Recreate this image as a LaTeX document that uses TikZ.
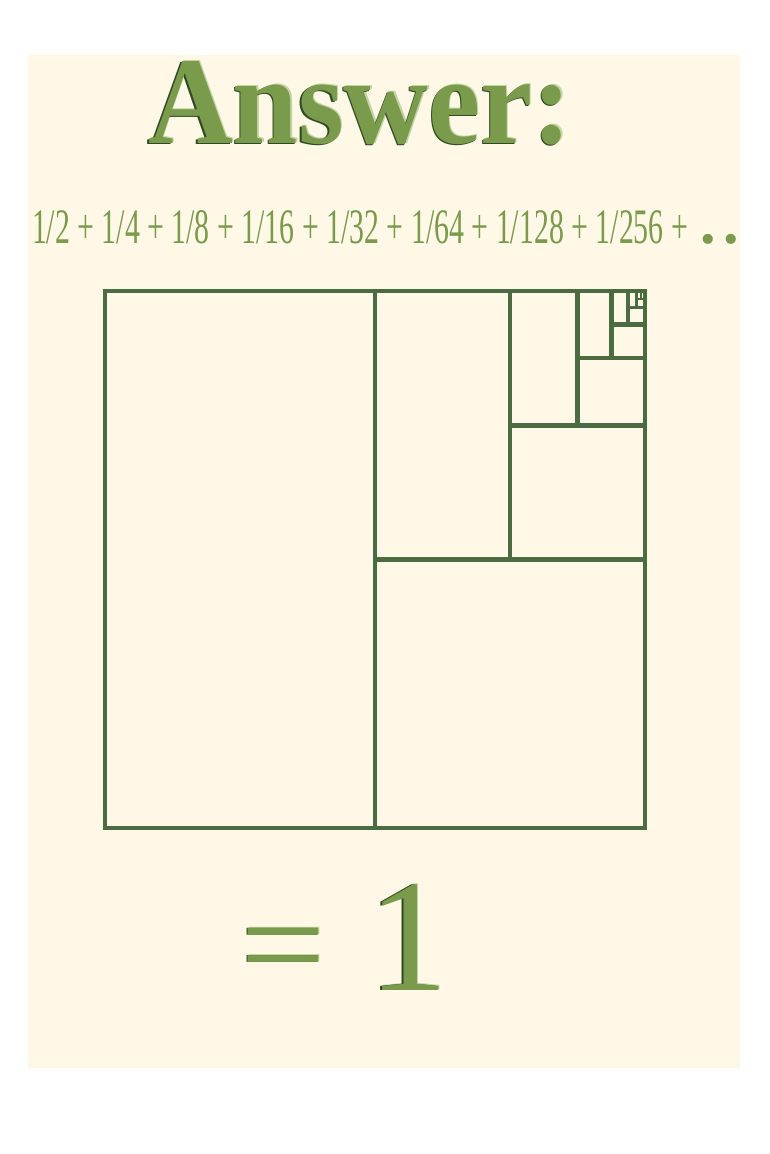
\documentclass[tikz,border=0pt]{standalone}
\usepackage{fontspec}
\setmainfont{Liberation Serif}
\usepackage{graphicx}
\definecolor{cream}{HTML}{FFF8E6}
\definecolor{boxgreen}{HTML}{4B6B40}
\definecolor{txtgreen}{HTML}{7A9A4C}
\definecolor{shadegreen}{HTML}{2E4A22}
\definecolor{lightgreen}{HTML}{C4D4A4}
\tikzset{
  txt/.style={inner sep=0pt, outer sep=0pt},
  grid/.style={draw=boxgreen, line width=4.6pt, line cap=rect},
  gridthin/.style={draw=boxgreen, line width=#1, line cap=rect},
  big/.style={txt, anchor=base, font=\fontsize{160}{160}\selectfont},
}
\newcommand{\titletext}{\resizebox{424pt}{82pt}{\bfseries Answer:}}
\newcommand{\seriestext}{\resizebox{656pt}{33pt}{1/2 + 1/4 + 1/8 + 1/16 + 1/32 + 1/64 + 1/128 + 1/256 +}\hspace{12pt}{\fontsize{62}{62}\selectfont\bfseries .\hspace{8pt}.}}
\begin{document}
\begin{tikzpicture}[x=1pt,y=-1pt]
\useasboundingbox (0,0) rectangle (770,1154);
\fill[white] (0,0) rectangle (770,1154);
\fill[cream] (28,55) rectangle (740,1068);

% title with emboss effect
\node[txt, anchor=base west, text=lightgreen] (titleL) at (149.2,142.2) {\titletext};
\node[txt, anchor=base west, text=shadegreen] (titleS) at (146.6,144.2) {\titletext};
\node[txt, anchor=base west, text=txtgreen] (title) at (148,143) {\titletext};

% series
\node[txt, anchor=base west, text=txtgreen, font=\fontsize{49}{50}\selectfont] (series) at (32,243) {\seriestext};

% squares
\coordinate (tl) at (105,291);
\coordinate (br) at (645,828);
\draw[grid] (tl) rectangle (br);
\draw[grid] (375,291) -- (375,828);
\draw[grid] (375,559.5) -- (645,559.5);
\draw[grid] (510,291) -- (510,559.5);
\draw[grid] (510,425.25) -- (645,425.25);
\draw[grid] (577.5,291) -- (577.5,425.25);
\draw[grid] (577.5,358.125) -- (645,358.125);
\draw[grid] (611.25,291) -- (611.25,358.125);
\draw[grid] (611.25,324.56) -- (645,324.56);
\draw[gridthin=3.5pt] (628.125,291) -- (628.125,324.56);
\draw[gridthin=3pt] (628.125,307.78) -- (645,307.78);
\draw[gridthin=2.5pt] (636.56,291) -- (636.56,307.78);
\draw[gridthin=2pt] (636.56,299.39) -- (645,299.39);
\draw[gridthin=1.5pt] (640.78,291) -- (640.78,299.39);

% = 1
\node[big, text=lightgreen] (eqL) at (284,989.5) {\scalebox{0.95}[0.85]{=}};
\node[big, text=shadegreen] (eqS) at (282,990.8) {\scalebox{0.95}[0.85]{=}};
\node[big, text=txtgreen] (eq) at (283,990) {\scalebox{0.95}[0.85]{=}};
\node[big, text=lightgreen] (oneL) at (409.5,989.5) {1};
\node[big, text=shadegreen] (oneS) at (406.6,990.8) {1};
\node[big, text=txtgreen] (one) at (408,990) {1};
\end{tikzpicture}
\end{document}
